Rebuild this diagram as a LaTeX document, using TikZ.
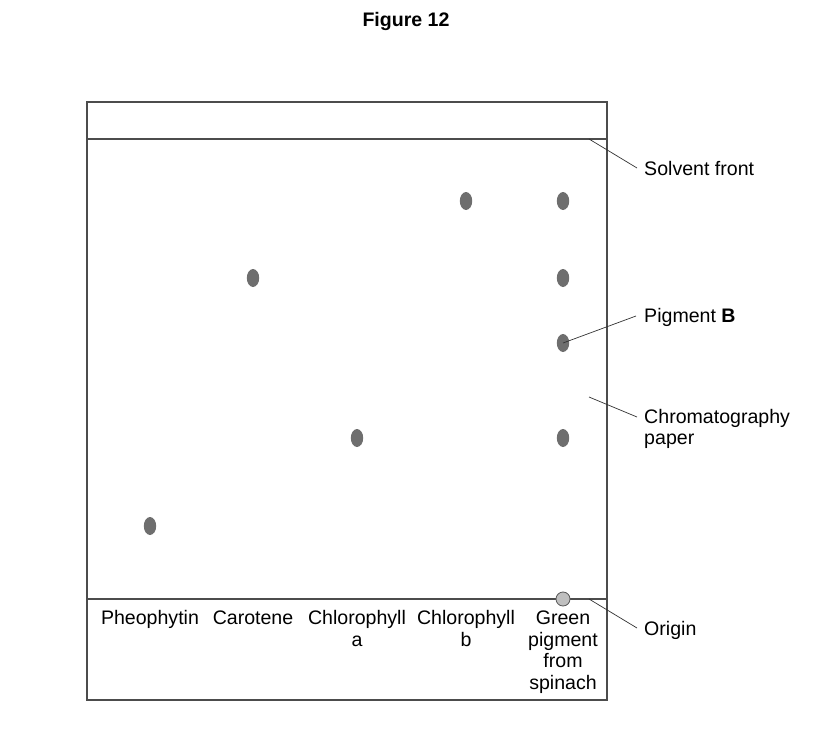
\documentclass[tikz,border=0pt]{standalone}
\usepackage{fontspec}
\setmainfont{Liberation Sans}
\begin{document}
\begin{tikzpicture}[x=0.03cm,y=-0.03cm,
  frame/.style={draw=black!70,line width=1.1pt},
  lbl/.style={font=\fontsize{16.7}{18.5}\selectfont,inner sep=0pt,align=center,anchor=north},
  side/.style={font=\fontsize{16.7}{17.3}\selectfont,inner sep=0pt,align=left,anchor=west},
  lead/.style={draw=black!80,line width=0.6pt}]
\useasboundingbox (0,0) rectangle (825,733);
\node[font=\bfseries\fontsize{16.7}{18.3}\selectfont,inner sep=0pt] (title) at (406,21) {Figure 12};
\draw[frame] (87,102) rectangle (607,700);
\draw[frame] (87,139) -- (607,139);
\draw[frame] (87,599) -- (607,599);
% spots
\fill[black!57] (150,526) ellipse (6.2 and 9);
\fill[black!57] (253,278) ellipse (6.2 and 9);
\fill[black!57] (357,438) ellipse (6.2 and 9);
\fill[black!57] (466,201) ellipse (6.2 and 9);
\fill[black!57] (563,201) ellipse (6.2 and 9);
\fill[black!57] (563,278) ellipse (6.2 and 9);
\fill[black!57] (563,343) ellipse (6.2 and 9);
\fill[black!57] (563,438) ellipse (6.2 and 9);
\coordinate (pb) at (563,343);
\draw[fill=black!25,draw=black!65,line width=0.7pt] (563,599) circle (7);
% labels under
\node[lbl] (l1) at (150,609) {\strut Pheophytin};
\node[lbl] (l2) at (253,609) {\strut Carotene};
\node[lbl] (l3) at (357,609) {\strut Chlorophyll\\a};
\node[lbl] (l4) at (466,609) {\strut Chlorophyll\\b};
\node[lbl] (l5) at (563,609) {\strut Green\\pigment\\from\\spinach};
% side labels
\node[side] (sf) at (644,169) {Solvent front};
\node[side] (pgb) at (644,317) {Pigment \textbf{B}};
\node[side] (cp) at (644,429) {Chromatography\\paper};
\node[side] (or) at (644,630) {Origin};
\coordinate (sfa) at (589,139);
\coordinate (cpa) at (589,397);
\coordinate (ora) at (589,599);
\draw[lead] (sfa) -- (637,168);
\draw[lead] (pb) -- (636,316);
\draw[lead] (cpa) -- (637,417);
\draw[lead] (ora) -- (637,628);
\end{tikzpicture}
\end{document}
